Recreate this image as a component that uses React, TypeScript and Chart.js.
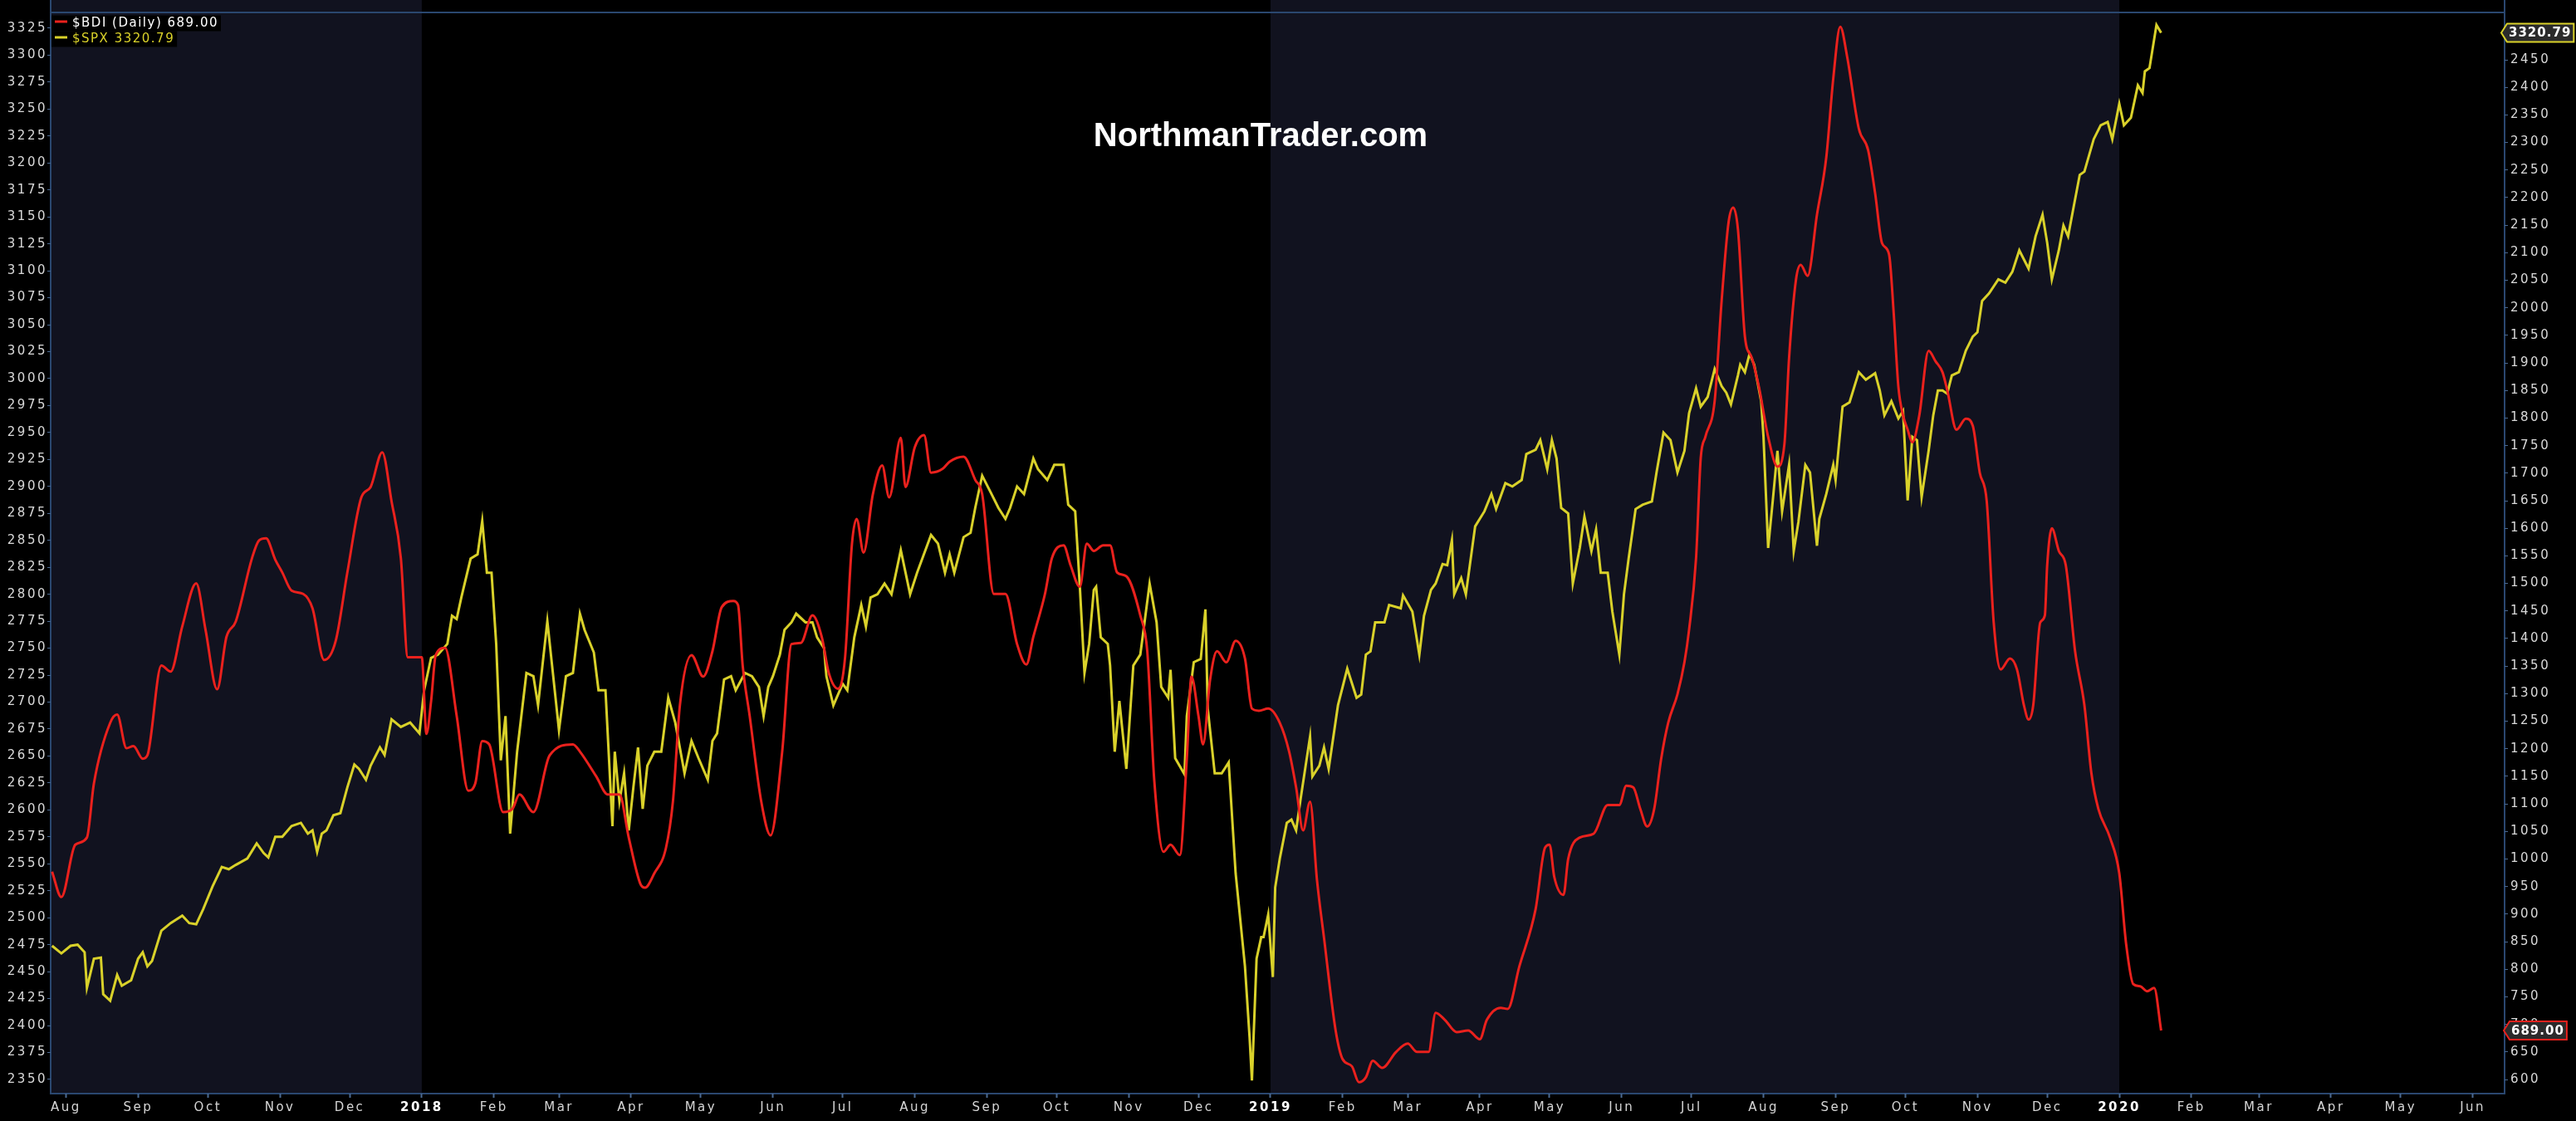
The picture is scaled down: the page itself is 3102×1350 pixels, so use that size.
import React, { useEffect, useRef } from "react";
import { Chart, registerables } from "chart.js";

Chart.register(...registerables);

const CANVAS_W = 3102;
const CANVAS_H = 1350;

// x values: days counted from 2018-01-01
const bdiDays = [
  -159, -155, -149, -144, -141, -134, -131, -127, -124, -120,
  -118, -112, -108, -103, -97, -93, -88, -84, -80, -73,
  -70, -67, -63, -60, -56, -51, -47, -42, -37, -32,
  -26, -22, -17, -13, -9, -6, 0, 2, 4, 6,
  10, 15, 20, 23, 26, 29, 35, 39, 42, 48,
  55, 65, 68, 75, 80, 85, 89, 94, 96, 100,
  105, 108, 111, 116, 121, 125, 129, 134, 136, 138,
  141, 146, 150, 155, 159, 163, 168, 172, 175, 179,
  182, 185, 187, 190, 194, 198, 201, 206, 208, 212,
  216, 219, 224, 227, 233, 238, 241, 246, 251, 256,
  260, 263, 268, 271, 276, 279, 283, 286, 289, 293,
  296, 299, 303, 309, 312, 315, 319, 322, 326, 329,
  331, 334, 336, 339, 342, 346, 350, 354, 357, 360,
  364, 369, 373, 376, 379, 382, 385, 388, 393, 396,
  400, 403, 406, 409, 413, 419, 424, 428, 433, 436,
  440, 445, 450, 455, 458, 464, 467, 472, 479, 483,
  485, 487, 491, 493, 498, 504, 510, 515, 518, 521,
  524, 527, 530, 533, 536, 540, 543, 545, 548, 550,
  552, 556, 559, 562, 564, 566, 569, 572, 575, 579,
  583, 586, 588, 591, 593, 596, 600, 604, 607, 610,
  613, 618, 622, 625, 628, 631, 633, 635, 637, 639,
  641, 644, 648, 651, 654, 656, 660, 664, 667, 670,
  673, 676, 679, 683, 686, 689, 691, 693, 696, 698,
  699, 701, 704, 707, 711, 715, 718, 721, 726, 730,
  733, 736, 739, 742, 745, 748,
];
const bdiValues = [
  977, 931, 1026, 1039, 1137, 1247, 1262, 1201, 1205, 1182,
  1188, 1351, 1340, 1422, 1500, 1416, 1308, 1403, 1431, 1546,
  1578, 1582, 1543, 1520, 1487, 1481, 1455, 1361, 1396, 1520,
  1656, 1675, 1738, 1649, 1546, 1366, 1366, 1227, 1286, 1370,
  1383, 1260, 1124, 1137, 1214, 1208, 1085, 1091, 1117, 1085,
  1188, 1208, 1195, 1150, 1117, 1117, 1039, 955, 948, 974,
  1020, 1104, 1279, 1370, 1331, 1377, 1457, 1468, 1461, 1351,
  1260, 1104, 1043, 1195, 1390, 1392, 1442, 1403, 1338, 1309,
  1364, 1572, 1617, 1556, 1662, 1714, 1656, 1764, 1675, 1747,
  1769, 1701, 1708, 1721, 1730, 1688, 1662, 1481, 1481, 1390,
  1353, 1403, 1481, 1546, 1569, 1533, 1494, 1572, 1559, 1569,
  1569, 1520, 1513, 1442, 1377, 1143, 1013, 1026, 1007, 1182,
  1331, 1260, 1208, 1325, 1377, 1357, 1396, 1364, 1273, 1269,
  1273, 1247, 1195, 1130, 1052, 1104, 961, 857, 689, 637,
  624, 595, 604, 634, 621, 650, 665, 650, 650, 721,
  708, 686, 689, 673, 708, 730, 728, 805, 909, 1020,
  1026, 968, 935, 1000, 1039, 1046, 1098, 1098, 1133, 1130,
  1091, 1059, 1091, 1182, 1247, 1299, 1357, 1416, 1546, 1727,
  1766, 1831, 2013, 2156, 2182, 2143, 1948, 1909, 1857, 1766,
  1712, 1753, 1909, 2052, 2078, 2058, 2169, 2273, 2416, 2510,
  2455, 2325, 2286, 2208, 2117, 2097, 1990, 1857, 1805, 1779,
  1756, 1805, 1922, 1903, 1883, 1851, 1779, 1799, 1786, 1701,
  1649, 1429, 1344, 1364, 1344, 1279, 1253, 1279, 1429, 1442,
  1533, 1600, 1559, 1533, 1377, 1279, 1156, 1091, 1039, 974,
  844, 773, 769, 760, 766, 689,
];

const spxDays = [
  -159, -155, -151, -148, -145, -144, -141, -138, -137, -134,
  -131, -129, -125, -122, -120, -118, -116, -112, -108, -103,
  -100, -97, -94, -90, -86, -83, -80, -75, -71, -68,
  -66, -63, -60, -56, -52, -49, -47, -45, -43, -41,
  -38, -35, -32, -29, -27, -24, -22, -18, -16, -13,
  -9, -5, -1, 1, 4, 7, 11, 13, 15, 17,
  21, 24, 26, 28, 30, 32, 34, 36, 38, 41,
  45, 48, 50, 54, 59, 62, 65, 68, 70, 74,
  76, 79, 82, 83, 85, 87, 89, 91, 93, 95,
  97, 100, 103, 106, 109, 113, 116, 119, 123, 125,
  127, 130, 133, 135, 139, 142, 145, 147, 149, 151,
  154, 156, 159, 161, 165, 168, 170, 173, 174, 177,
  181, 183, 186, 189, 191, 193, 196, 199, 202, 206,
  210, 213, 219, 222, 225, 227, 229, 233, 236, 238,
  241, 245, 248, 251, 253, 256, 259, 263, 265, 269,
  272, 276, 278, 281, 283, 285, 287, 289, 290, 292,
  295, 296, 298, 300, 303, 306, 309, 313, 316, 318,
  321, 322, 324, 328, 329, 332, 335, 337, 338, 341,
  344, 347, 350, 354, 356, 357, 359, 361, 362, 364,
  366, 367, 369, 372, 374, 376, 378, 382, 383, 386,
  388, 390, 394, 398, 402, 404, 406, 408, 410, 414,
  416, 421, 422, 426, 429, 431, 434, 436, 439, 441,
  443, 444, 447, 449, 453, 457, 460, 462, 466, 469,
  473, 475, 479, 481, 484, 486, 488, 490, 493, 495,
  498, 500, 503, 505, 507, 510, 512, 515, 517, 519,
  522, 525, 529, 531, 534, 537, 540, 543, 545, 548,
  550, 553, 556, 559, 561, 563, 566, 567, 569, 571,
  573, 576, 577, 579, 581, 583, 585, 588, 590, 592,
  595, 597, 600, 601, 604, 607, 608, 611, 614, 618,
  621, 625, 627, 629, 632, 635, 637, 639, 641, 643,
  645, 648, 650, 652, 654, 656, 658, 661, 664, 667,
  669, 671, 674, 678, 681, 684, 687, 691, 694, 697,
  699, 701, 704, 706, 708, 710, 713, 715, 719, 722,
  725, 727, 730, 732, 735, 738, 740, 741, 743, 746,
  748,
];
const spxValues = [
  2474, 2467, 2474, 2475, 2468, 2435, 2462, 2463, 2429, 2423,
  2447, 2437, 2442, 2462, 2468, 2455, 2460, 2488, 2495, 2502,
  2495, 2494, 2508, 2529, 2547, 2545, 2549, 2555, 2569, 2560,
  2556, 2575, 2575, 2585, 2588, 2578, 2581, 2561, 2578, 2581,
  2595, 2597, 2621, 2642, 2638, 2628, 2641, 2658, 2651, 2684,
  2677, 2681, 2671, 2711, 2741, 2744, 2754, 2780, 2777, 2797,
  2833, 2837, 2868, 2820, 2820, 2754, 2646, 2687, 2578, 2654,
  2727, 2724, 2697, 2775, 2674, 2724, 2727, 2782, 2767, 2746,
  2711, 2711, 2585, 2654, 2608, 2634, 2581, 2621, 2658, 2601,
  2641, 2654, 2654, 2704, 2681, 2634, 2664, 2648, 2628, 2664,
  2671, 2721, 2724, 2711, 2727, 2724, 2714, 2687, 2714, 2724,
  2744, 2767, 2774, 2782, 2774, 2774, 2760, 2750, 2724, 2697,
  2717, 2711, 2760, 2790, 2770, 2797, 2800, 2810, 2800, 2841,
  2800, 2820, 2855, 2847, 2820, 2837, 2820, 2853, 2857, 2880,
  2910, 2893, 2880, 2870, 2880, 2900, 2893, 2926, 2916, 2906,
  2920, 2920, 2883, 2877, 2807, 2727, 2754, 2804, 2807, 2760,
  2754, 2734, 2654, 2701, 2638, 2734, 2744, 2810, 2774, 2714,
  2704, 2730, 2648, 2633, 2687, 2737, 2740, 2786, 2694, 2634,
  2634, 2644, 2541, 2455, 2389, 2349, 2462, 2482, 2482, 2503,
  2445, 2528, 2555, 2588, 2591, 2581, 2611, 2668, 2631, 2641,
  2658, 2638, 2697, 2731, 2704, 2707, 2744, 2747, 2774, 2774,
  2790, 2787, 2799, 2784, 2744, 2780, 2804, 2810, 2828, 2827,
  2850, 2800, 2815, 2800, 2863, 2877, 2893, 2879, 2903, 2900,
  2906, 2930, 2934, 2943, 2916, 2943, 2926, 2880, 2875, 2810,
  2843, 2872, 2840, 2860, 2820, 2820, 2784, 2744, 2800, 2833,
  2879, 2883, 2886, 2913, 2950, 2943, 2913, 2933, 2968, 2991,
  2974, 2983, 3009, 2993, 2987, 2976, 3003, 3013, 3006, 3023,
  3013, 2979, 2946, 2843, 2887, 2933, 2877, 2920, 2840, 2867,
  2920, 2913, 2845, 2870, 2893, 2920, 2906, 2974, 2978, 3006,
  2999, 3005, 2989, 2966, 2979, 2963, 2970, 2887, 2946, 2943,
  2890, 2933, 2966, 2989, 2989, 2986, 3003, 3006, 3026, 3039,
  3043, 3072, 3079, 3092, 3089, 3099, 3119, 3102, 3132, 3152,
  3126, 3092, 3119, 3142, 3132, 3155, 3189, 3192, 3222, 3235,
  3238, 3222, 3255, 3235, 3242, 3272, 3265, 3285, 3288, 3328,
  3320.79,
];

const monthTickDays = [
  -153, -122, -92, -61, -31, 0, 31, 59, 90, 120, 151, 181, 212, 243, 273, 304, 334,
  365, 396, 424, 455, 485, 516, 546, 577, 608, 638, 669, 699, 730, 761, 790, 821, 851, 882,
];
const monthTickLabels = [
  "Aug", "Sep", "Oct", "Nov", "Dec", "2018", "Feb", "Mar", "Apr", "May", "Jun", "Jul", "Aug", "Sep", "Oct", "Nov", "Dec",
  "2019", "Feb", "Mar", "Apr", "May", "Jun", "Jul", "Aug", "Sep", "Oct", "Nov", "Dec", "2020", "Feb", "Mar", "Apr", "May", "Jun",
];
const spxAxisTicks = [
  2350, 2375, 2400, 2425, 2450, 2475, 2500, 2525, 2550, 2575, 2600, 2625, 2650, 2675, 2700, 2725, 2750, 2775, 2800, 2825,
  2850, 2875, 2900, 2925, 2950, 2975, 3000, 3025, 3050, 3075, 3100, 3125, 3150, 3175, 3200, 3225, 3250, 3275, 3300, 3325,
];
const bdiAxisTicks = [
  600, 650, 700, 750, 800, 850, 900, 950, 1000, 1050, 1100, 1150, 1200, 1250, 1300, 1350, 1400, 1450, 1500,
  1550, 1600, 1650, 1700, 1750, 1800, 1850, 1900, 1950, 2000, 2050, 2100, 2150, 2200, 2250, 2300, 2350, 2400, 2450,
];

const bdiLast = 689.0;
const spxLast = 3320.79;
const bdiLabel = "$BDI (Daily)";
const spxLabel = "$SPX";
const watermark = "NorthmanTrader.com";
const shadedSpans = [
  [-400, 0],
  [365, 730],
];

const X_MIN = -159.6;
const X_MAX = 895.7;
const SPX_MIN = 2336.9;
const SPX_MAX = 3339.6;
const BDI_MIN = 574.4;
const BDI_MAX = 2535.9;

const RED = "#ea211d";
const YELLOW = "#d9d12a";
const NAVY = "#11121f";
const FRAME = "#2a476f";
const TICKMARK = "#4b6a93";
const FONT = "'DejaVu Sans', 'Liberation Sans', sans-serif";

function drawBadge(ctx, yPix, text, border, left) {
  ctx.save();
  ctx.letterSpacing = "1px";
  ctx.font = `bold 15px ${FONT}`;
  const tw = ctx.measureText(text).width;
  const h = 22;
  const bx = left + 7;
  const bw = tw + 5;
  ctx.beginPath();
  ctx.moveTo(left, yPix);
  ctx.lineTo(bx, yPix - h / 2);
  ctx.lineTo(bx + bw, yPix - h / 2);
  ctx.lineTo(bx + bw, yPix + h / 2);
  ctx.lineTo(bx, yPix + h / 2);
  ctx.closePath();
  ctx.fillStyle = "#2b2b2b";
  ctx.fill();
  ctx.lineWidth = 2;
  ctx.strokeStyle = border;
  ctx.stroke();
  ctx.fillStyle = "#ffffff";
  ctx.textAlign = "left";
  ctx.textBaseline = "middle";
  ctx.fillText(text, bx + 2, yPix + 1);
  ctx.restore();
}

const decorPlugin = {
  id: "decor",
  beforeDraw(chart) {
    const { ctx, chartArea, scales } = chart;
    const xs = scales.x;
    ctx.save();
    ctx.fillStyle = "#000000";
    ctx.fillRect(0, 0, chart.width, chart.height);
    ctx.fillStyle = NAVY;
    for (const [a, b] of shadedSpans) {
      const x0 = Math.max(chartArea.left, xs.getPixelForValue(a));
      const x1 = Math.min(chartArea.right, xs.getPixelForValue(b));
      if (x1 > x0) ctx.fillRect(x0, 0, x1 - x0, chartArea.bottom);
    }
    ctx.strokeStyle = FRAME;
    ctx.lineWidth = 2;
    ctx.beginPath();
    ctx.moveTo(chartArea.left, 0);
    ctx.lineTo(chartArea.left, chartArea.bottom);
    ctx.lineTo(chartArea.right, chartArea.bottom);
    ctx.lineTo(chartArea.right, 0);
    ctx.moveTo(chartArea.left, chartArea.top);
    ctx.lineTo(chartArea.right, chartArea.top);
    ctx.stroke();
    ctx.restore();
    ctx.letterSpacing = "2.5px";
  },
  afterDraw(chart) {
    const { ctx, chartArea, scales } = chart;
    ctx.letterSpacing = "0px";
    // watermark
    ctx.save();
    ctx.font = "bold 40px 'Liberation Sans', Arial, sans-serif";
    ctx.fillStyle = "#ffffff";
    ctx.textAlign = "center";
    ctx.textBaseline = "middle";
    ctx.fillText(watermark, 1518, 165);
    ctx.restore();

    // legend
    const rows = [
      { text: `${bdiLabel} ${bdiLast.toFixed(2)}`, line: RED, color: "#ffffff", y: 28 },
      { text: `${spxLabel} ${spxLast.toFixed(2)}`, line: YELLOW, color: YELLOW, y: 47 },
    ];
    ctx.save();
    ctx.letterSpacing = "1.5px";
    ctx.font = `15px ${FONT}`;
    ctx.textBaseline = "middle";
    ctx.textAlign = "left";
    for (const r of rows) {
      const tw = ctx.measureText(r.text).width;
      ctx.fillStyle = "#000000";
      ctx.fillRect(chartArea.left + 1, r.y - 9.5, tw + 28, 19);
      ctx.strokeStyle = r.line;
      ctx.lineWidth = 3;
      ctx.beginPath();
      ctx.moveTo(chartArea.left + 5, r.y - 2);
      ctx.lineTo(chartArea.left + 20, r.y - 2);
      ctx.stroke();
      ctx.fillStyle = r.color;
      ctx.fillText(r.text, chartArea.left + 26, r.y);
    }
    ctx.restore();

    // last-value badges
    drawBadge(ctx, scales.yL.getPixelForValue(spxLast), spxLast.toFixed(2), YELLOW, chartArea.right - 4);
    drawBadge(ctx, scales.yR.getPixelForValue(bdiLast), bdiLast.toFixed(2), RED, chartArea.right - 1);
  },
};

export default function App() {
  const ref = useRef(null);
  useEffect(() => {
    const canvas = ref.current;
    if (!canvas) return;
    const isYear = (i) => /^\d{4}$/.test(monthTickLabels[i] || "");
    const chart = new Chart(canvas, {
      type: "line",
      data: {
        datasets: [
          {
            label: bdiLabel,
            data: bdiDays.map((d, i) => ({ x: d, y: bdiValues[i] })),
            yAxisID: "yR",
            borderColor: RED,
            borderWidth: 3,
            pointRadius: 0,
            cubicInterpolationMode: "monotone",
            fill: false,
          },
          {
            label: spxLabel,
            data: spxDays.map((d, i) => ({ x: d, y: spxValues[i] })),
            yAxisID: "yL",
            borderColor: YELLOW,
            borderWidth: 3,
            pointRadius: 0,
            tension: 0,
            fill: false,
          },
        ],
      },
      options: {
        responsive: false,
        animation: false,
        devicePixelRatio: 1,
        layout: { padding: { top: 15, left: 0, right: 0, bottom: 0 } },
        plugins: {
          legend: { display: false },
          tooltip: { enabled: false },
          title: { display: false },
        },
        scales: {
          x: {
            type: "linear",
            min: X_MIN,
            max: X_MAX,
            afterBuildTicks: (s) => {
              s.ticks = monthTickDays.map((v) => ({ value: v }));
            },
            afterFit: (s) => {
              s.height = 33;
            },
            border: { display: false },
            grid: { display: true, drawOnChartArea: false, drawTicks: true, tickLength: 5, tickColor: TICKMARK, tickWidth: 2 },
            ticks: {
              autoSkip: false,
              maxRotation: 0,
              minRotation: 0,
              padding: 3,
              callback: (v, i) => monthTickLabels[i],
              color: (c) => (isYear(c.index) ? "#ffffff" : "#d4d4d4"),
              font: (c) => (isYear(c.index) ? { family: FONT, size: 15, weight: "bold" } : { family: FONT, size: 15 }),
            },
          },
          yL: {
            type: "linear",
            position: "left",
            min: SPX_MIN,
            max: SPX_MAX,
            afterBuildTicks: (s) => {
              s.ticks = spxAxisTicks.map((v) => ({ value: v }));
            },
            afterFit: (s) => {
              s.width = 61;
            },
            border: { display: false },
            grid: { display: true, drawOnChartArea: false, drawTicks: true, tickLength: 4, tickColor: TICKMARK },
            ticks: {
              autoSkip: false,
              padding: 0,
              color: "#d8d8d8",
              font: { family: FONT, size: 15 },
              callback: (v) => String(v),
            },
          },
          yR: {
            type: "linear",
            position: "right",
            min: BDI_MIN,
            max: BDI_MAX,
            afterBuildTicks: (s) => {
              s.ticks = bdiAxisTicks.map((v) => ({ value: v }));
            },
            afterFit: (s) => {
              s.width = 86;
            },
            border: { display: false },
            grid: { display: true, drawOnChartArea: false, drawTicks: true, tickLength: 4, tickColor: TICKMARK },
            ticks: {
              autoSkip: false,
              padding: 3,
              color: "#d8d8d8",
              font: { family: FONT, size: 15 },
              callback: (v) => String(v),
            },
          },
        },
      },
      plugins: [decorPlugin],
    });
    return () => chart.destroy();
  }, []);

  return (
    <div style={{ position: "fixed", left: 0, top: 0, width: CANVAS_W, height: CANVAS_H, background: "#000" }}>
      <canvas ref={ref} width={CANVAS_W} height={CANVAS_H} style={{ display: "block", width: CANVAS_W, height: CANVAS_H }} />
    </div>
  );
}
